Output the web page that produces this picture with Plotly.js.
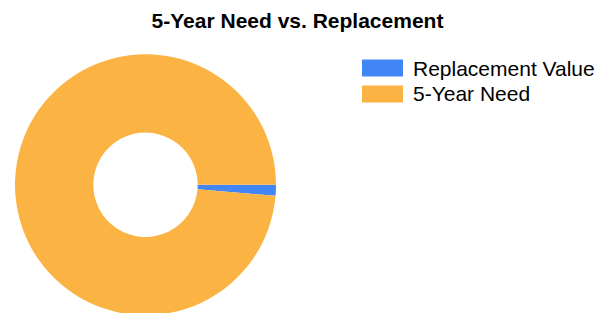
<!DOCTYPE html>
<html>
<head>
<meta charset="utf-8">
<script src="https://cdn.plot.ly/plotly-3.0.1.min.js"></script>
<style>html,body{margin:0;padding:0;overflow:hidden;background:#fff;}#chart{width:595px;height:320px;}</style>
</head>
<body>
<div id="chart"></div>
<script>
const categories = ["Replacement Value", "5-Year Need"];
const values = [1.35, 98.65];
const colors = ["#4285f4", "#fbb443"];
const chartTitle = "5-Year Need vs. Replacement";

const W = 595, H = 320;
const font = "Arial, 'Liberation Sans', sans-serif";

const shapes = [];
const annotations = [];
categories.forEach((c, i) => {
  const cy = 68 + i * 26;
  shapes.push({
    type: "rect", xref: "paper", yref: "paper",
    x0: 362 / W, x1: 403 / W,
    y0: (H - cy - 8.5) / H, y1: (H - cy + 8.5) / H,
    fillcolor: colors[i], line: {width: 0}
  });
  annotations.push({
    text: c, xref: "paper", yref: "paper",
    x: 411 / W, y: (H - cy) / H, xanchor: "left", yanchor: "middle",
    showarrow: false, font: {family: font, size: 21, color: "#000"}
  });
});

const trace = {
  type: "pie",
  labels: categories,
  values: values,
  hole: 0.4,
  sort: false,
  direction: "clockwise",
  rotation: 90,
  textinfo: "none",
  hoverinfo: "label+value",
  marker: {colors: colors, line: {width: 0}},
  domain: {x: [15 / W, 276 / W], y: [(H - 315.3) / H, (H - 54.3) / H]},
  showlegend: false
};

const layout = {
  width: W, height: H,
  margin: {l: 0, r: 0, t: 0, b: 0},
  paper_bgcolor: "#fff",
  showlegend: false,
  title: {
    text: "<b>" + chartTitle + "</b>",
    font: {family: font, size: 21, color: "#000"},
    x: 0.5, xanchor: "center", xref: "paper",
    y: (H - 21) / H, yanchor: "middle", yref: "container"
  },
  shapes: shapes,
  annotations: annotations
};

Plotly.newPlot("chart", [trace], layout, {displayModeBar: false, staticPlot: true});
</script>
</body>
</html>
